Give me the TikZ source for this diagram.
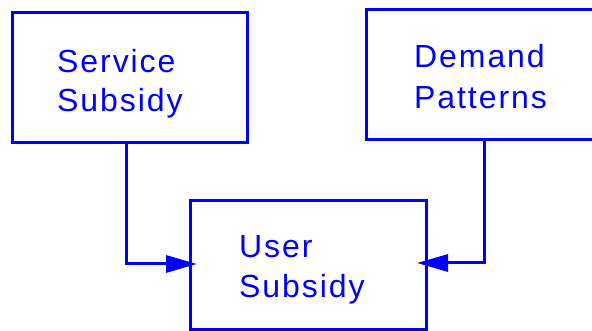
\documentclass[tikz,border=0pt]{standalone}
\usepackage{fontspec}
\setmainfont{Liberation Sans}[LetterSpace=6]
\usetikzlibrary{arrows.meta}
\begin{document}
\begin{tikzpicture}[x=1pt,y=-1pt,
  boxs/.style={draw=blue,line width=3pt,rectangle,inner sep=0pt},
  lbl/.style={text=blue,inner sep=0pt,anchor=base west,font=\fontsize{32}{40}\selectfont},
  arr/.style={draw=blue,line width=3pt,-{Triangle[length=31pt,width=17pt]}}]
\clip (0,0) rectangle (592,331);
% boxes
\node[boxs,minimum width=234.5pt,minimum height=129.8pt] (s) at (129.75,77.4) {};
\node[boxs,minimum width=240pt,minimum height=130.3pt] (d) at (486,74.85) {};
\node[boxs,minimum width=235.6pt,minimum height=129pt] (u) at (308.5,265.2) {};
% labels
\node[lbl] (s1) at (57,73) {Service};
\node[lbl] (s2) at (57,112) {Subsidy};
\node[lbl] (d1) at (414,68) {Demand};
\node[lbl] (d2) at (414,109) {Patterns};
\node[lbl] (u1) at (239,258) {User};
\node[lbl] (u2) at (239,298) {Subsidy};
% arrow end points just inside the User Subsidy box
\coordinate (ul) at (197,264);
\coordinate (ur) at (417,263);
% connectors
\draw[arr] (s.south -| 126,0) |- (ul);
\draw[arr] (d.south -| 484,0) |- (ur);
\end{tikzpicture}
\end{document}
